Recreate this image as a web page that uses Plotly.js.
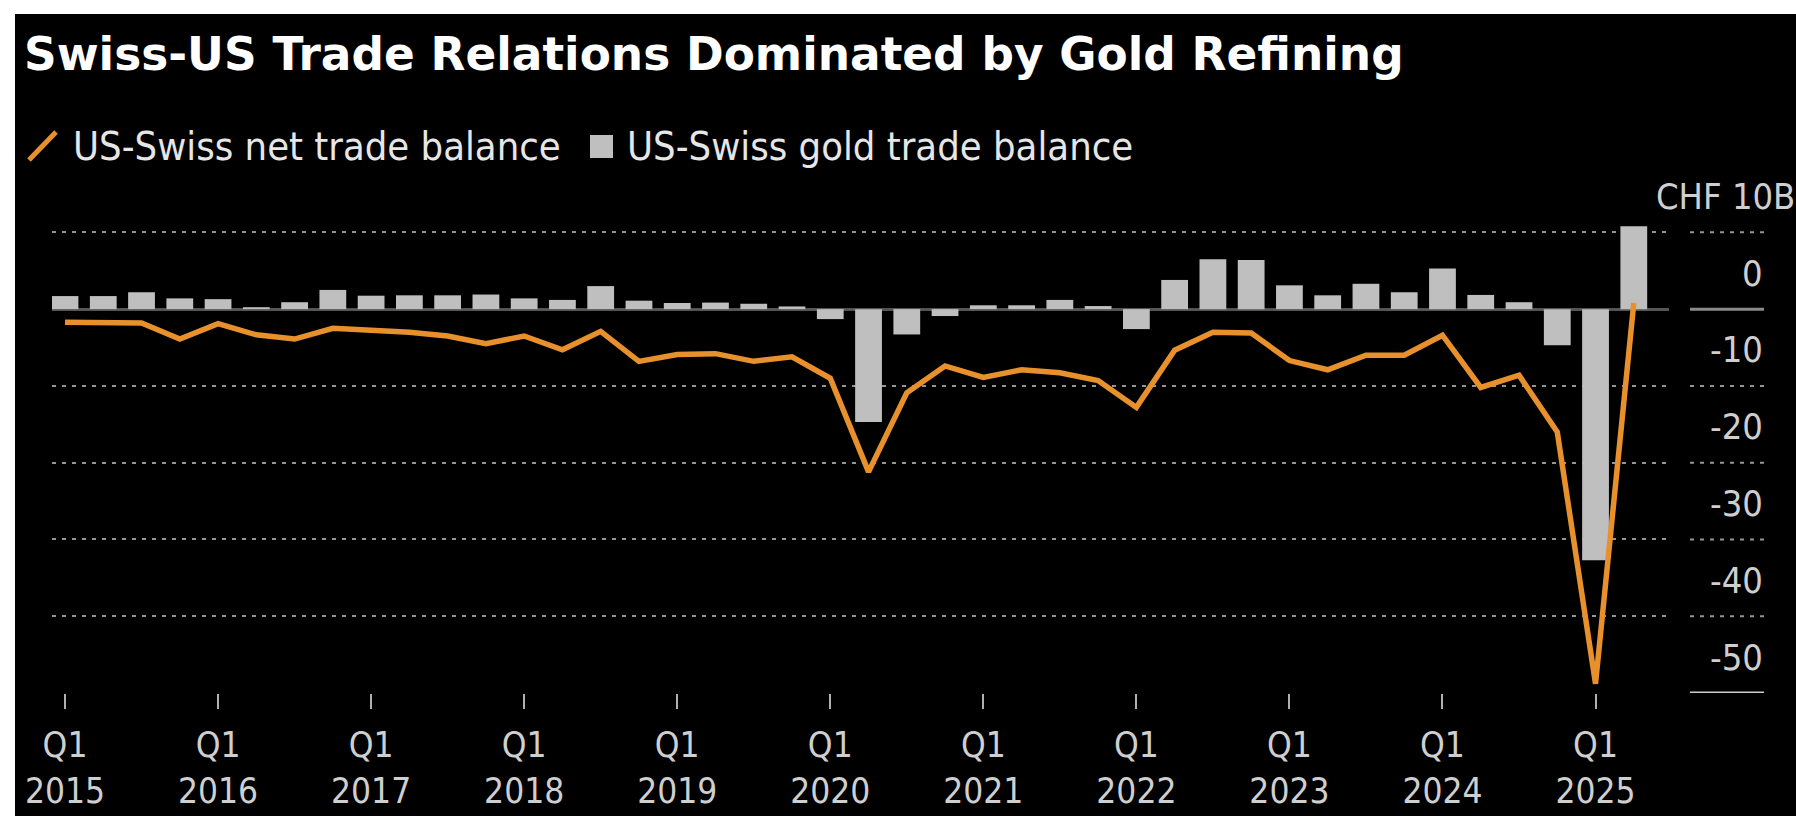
<!DOCTYPE html>
<html>
<head>
<meta charset="utf-8">
<script src="https://cdn.plot.ly/plotly-3.0.1.min.js"></script>
<style>
  html, body { margin: 0; padding: 0; background: #ffffff; width: 1796px; height: 816px; overflow: hidden; }
  #chart { position: absolute; left: 15px; top: 14px; width: 1781px; height: 802px; }
</style>
</head>
<body>
<div id="chart"></div>
<script>
// ---- Data (CHF billions, quarterly) ----
const quarters = [
  "2015 Q1","2015 Q2","2015 Q3","2015 Q4",
  "2016 Q1","2016 Q2","2016 Q3","2016 Q4",
  "2017 Q1","2017 Q2","2017 Q3","2017 Q4",
  "2018 Q1","2018 Q2","2018 Q3","2018 Q4",
  "2019 Q1","2019 Q2","2019 Q3","2019 Q4",
  "2020 Q1","2020 Q2","2020 Q3","2020 Q4",
  "2021 Q1","2021 Q2","2021 Q3","2021 Q4",
  "2022 Q1","2022 Q2","2022 Q3","2022 Q4",
  "2023 Q1","2023 Q2","2023 Q3","2023 Q4",
  "2024 Q1","2024 Q2","2024 Q3","2024 Q4",
  "2025 Q1","2025 Q2"
];
const goldBalance = [
  1.7, 1.7, 2.2, 1.4,
  1.3, 0.25, 0.9, 2.5,
  1.75, 1.8, 1.8, 1.9,
  1.4, 1.2, 3.0, 1.1,
  0.8, 0.85, 0.7, 0.35,
  -1.3, -14.7, -3.3, -0.9,
  0.5, 0.5, 1.2, 0.4,
  -2.6, 3.8, 6.5, 6.4,
  3.1, 1.8, 3.3, 2.2,
  5.3, 1.85, 0.9, -4.7,
  -32.7, 10.8
];
const netBalance = [
  -1.7, -1.75, -1.8, -3.9,
  -1.9, -3.35, -3.9, -2.5,
  -2.7, -3.0, -3.5, -4.5,
  -3.5, -5.3, -2.9, -6.8,
  -5.9, -5.8, -6.8, -6.2,
  -9.0, -21.2, -10.9, -7.4,
  -8.9, -7.9, -8.3, -9.3,
  -12.8, -5.35, -3.0, -3.1,
  -6.7, -7.9, -6.0, -6.0,
  -3.4, -10.2, -8.6, -16.0,
  -48.8, 0.8
];
const xTickVals = ["2015 Q1","2016 Q1","2017 Q1","2018 Q1","2019 Q1","2020 Q1","2021 Q1","2022 Q1","2023 Q1","2024 Q1","2025 Q1"];
const xTickText = ["Q1<br>2015","Q1<br>2016","Q1<br>2017","Q1<br>2018","Q1<br>2019","Q1<br>2020","Q1<br>2021","Q1<br>2022","Q1<br>2023","Q1<br>2024","Q1<br>2025"];
const yTickVals = [10, 0, -10, -20, -30, -40, -50];
const yTickText = ["CHF 10B", "0", "-10", "-20", "-30", "-40", "-50"];
const titleText = "Swiss-US Trade Relations Dominated by Gold Refining";
const netName = "US-Swiss net trade balance";
const goldName = "US-Swiss gold trade balance";

// ---- Styling / geometry ----
const ORANGE = "#e8912c";
const BARGRAY = "#bfbfbf";
const FONT = "'DejaVu Sans Condensed', 'Liberation Sans Narrow', 'DejaVu Sans', sans-serif";
const TITLEFONT = "'DejaVu Sans', Verdana, sans-serif";
const W = 1781, H = 802, OX = 15, OY = 14;
const M = { l: 37, r: 127, t: 203, b: 123 };
const PW = W - M.l - M.r, PH = H - M.t - M.b;
function fx(X) { return (X - OX - M.l) / PW; }          // image px -> paper x
function fy(Y) { return (H - M.b - (Y - OY)) / PH; }    // image px -> paper y

const traces = [
  {
    type: "bar", x: quarters, y: goldBalance, name: goldName,
    marker: { color: BARGRAY, line: { width: 0 } }, width: 0.7, showlegend: false
  },
  {
    type: "scatter", mode: "lines", x: quarters, y: netBalance, name: netName,
    line: { color: ORANGE, width: 5.5, shape: "linear" }, showlegend: false
  }
];

const shapes = [];
const annotations = [];

// right-hand label column segments and labels
yTickVals.forEach((v, i) => {
  let line;
  if (v === 0) line = { color: "#8a8a8a", width: 3 };
  else if (v === -50) line = { color: "#cccccc", width: 3 };
  else line = { color: "#959595", width: 2, dash: "4px,6px" };
  shapes.push({ type: "line", xref: "paper", yref: "y", x0: fx(1690), x1: fx(1764), y0: v, y1: v, line: line, layer: "above" });
  const isUnit = (i === 0);
  annotations.push({
    xref: "paper", yref: "y", x: isUnit ? fx(1797) : fx(1765), y: v, xanchor: "right", yanchor: "middle", yshift: 36,
    text: yTickText[i], showarrow: false, font: { family: FONT, size: 36, color: "#cfcfcf" }
  });
});

// custom legend
shapes.push({ type: "line", xref: "paper", yref: "paper", x0: fx(29), y0: fy(160), x1: fx(56), y1: fy(132), line: { color: ORANGE, width: 5 } });
shapes.push({ type: "rect", xref: "paper", yref: "paper", x0: fx(590), x1: fx(613), y0: fy(158), y1: fy(135), fillcolor: BARGRAY, line: { width: 0 } });
annotations.push({ xref: "paper", yref: "paper", x: fx(71), y: fy(146), xanchor: "left", yanchor: "middle", text: netName, showarrow: false, font: { family: FONT, size: 39.6, color: "#e6e6e6" } });
annotations.push({ xref: "paper", yref: "paper", x: fx(625), y: fy(146), xanchor: "left", yanchor: "middle", text: goldName, showarrow: false, font: { family: FONT, size: 39.6, color: "#e6e6e6" } });

const layout = {
  width: W, height: H,
  paper_bgcolor: "#000000", plot_bgcolor: "#000000",
  margin: M,
  showlegend: false,
  title: {
    text: titleText, xref: "container", yref: "container",
    x: (24 - OX) / W, xanchor: "left", y: 1 - (54 - OY) / H, yanchor: "middle",
    font: { family: TITLEFONT, size: 45.4, color: "#ffffff", weight: "bold" }
  },
  bargap: 0.3,
  xaxis: {
    type: "category", categoryorder: "array", categoryarray: quarters,
    range: [-0.34, 41.92], showgrid: false, zeroline: false, showline: false,
    tickmode: "array", tickvals: xTickVals, ticktext: xTickText,
    ticks: "outside", ticklen: 15, tickwidth: 2, tickcolor: "#b0b0b0",
    ticklabelstandoff: 6,
    tickfont: { family: FONT, size: 35, color: "#cfcfcf" }, fixedrange: true
  },
  yaxis: {
    range: [-50, 12], side: "right", showticklabels: false, ticks: "",
    tickmode: "array", tickvals: [10, -10, -20, -30, -40],
    showgrid: true, gridcolor: "#959595", gridwidth: 2, griddash: "4px,6px",
    zeroline: true, zerolinecolor: "#555555", zerolinewidth: 3,
    showline: false, fixedrange: true
  },
  shapes: shapes,
  annotations: annotations
};

Plotly.newPlot("chart", traces, layout, { staticPlot: true, displayModeBar: false });
</script>
</body>
</html>
